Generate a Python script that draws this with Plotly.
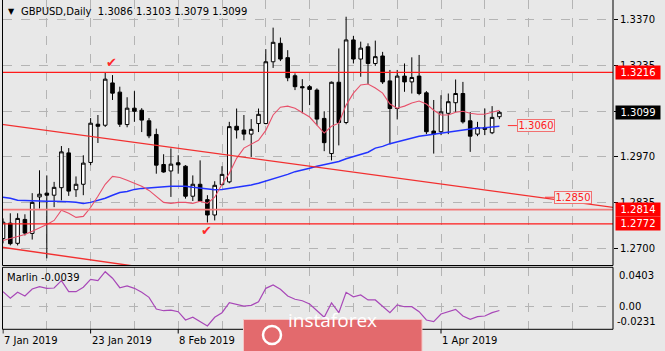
import plotly.graph_objects as go

W, H = 665, 351

# ---------------- data ----------------
bar_index = list(range(69))
open_ = [1.2729, 1.2774, 1.2715, 1.2785, 1.2744, 1.2851, 1.2862, 1.2856, 1.2878, 1.2980,
         1.2872, 1.2888, 1.2952, 1.3064, 1.3061, 1.3185, 1.3158, 1.3063, 1.3111, 1.3105,
         1.3074, 1.3034, 1.2946, 1.2927, 1.2951, 1.2941, 1.2853, 1.2888, 1.2843, 1.2798,
         1.2887, 1.2895, 1.3058, 1.3047, 1.3035, 1.3066, 1.3066, 1.3247, 1.3301, 1.3259,
         1.3206, 1.3174, 1.3174, 1.3164, 1.3081, 1.2978, 1.3187, 1.3069, 1.3311, 1.3255,
         1.3291, 1.3242, 1.3264, 1.3191, 1.3110, 1.3205, 1.3188, 1.3205, 1.3156, 1.3044,
         1.3042, 1.3096, 1.3127, 1.3154, 1.3074, 1.3035, 1.3054, 1.3039, 1.3086]
high_ = [1.2788, 1.2803, 1.2803, 1.2800, 1.2862, 1.2929, 1.2914, 1.2895, 1.3000, 1.2994,
         1.2911, 1.2973, 1.3082, 1.3091, 1.3216, 1.3208, 1.3174, 1.3143, 1.3161, 1.3111,
         1.3082, 1.3051, 1.2976, 1.2993, 1.2973, 1.2944, 1.2914, 1.2958, 1.2856, 1.2897,
         1.2941, 1.3071, 1.3110, 1.3091, 1.3079, 1.3110, 1.3284, 1.3347, 1.3318, 1.3281,
         1.3213, 1.3196, 1.3179, 1.3169, 1.3102, 1.3189, 1.3286, 1.3379, 1.3323, 1.3306,
         1.3301, 1.3309, 1.3276, 1.3223, 1.3223, 1.3242, 1.3260, 1.3267, 1.3161, 1.3135,
         1.3149, 1.3154, 1.3195, 1.3188, 1.3100, 1.3071, 1.3110, 1.3117, 1.3103]
low_ = [1.2715, 1.2709, 1.2709, 1.2738, 1.2726, 1.2817, 1.2671, 1.2821, 1.2841, 1.2854,
        1.2851, 1.2856, 1.2944, 1.3009, 1.3056, 1.3135, 1.3056, 1.3055, 1.3071, 1.3041,
        1.3023, 1.2919, 1.2922, 1.2851, 1.2919, 1.2846, 1.2839, 1.2836, 1.2776, 1.2782,
        1.2885, 1.2891, 1.3022, 1.3017, 1.2968, 1.3041, 1.3064, 1.3229, 1.3249, 1.3190,
        1.3164, 1.3096, 1.3120, 1.3061, 1.2985, 1.2958, 1.3002, 1.3064, 1.3242, 1.3203,
        1.3182, 1.3235, 1.3182, 1.3005, 1.3078, 1.3159, 1.3154, 1.3149, 1.3035, 1.2978,
        1.3032, 1.3035, 1.3100, 1.3066, 1.2983, 1.3029, 1.3032, 1.3035, 1.3079]
close_ = [1.2777, 1.2714, 1.2788, 1.2745, 1.2835, 1.2859, 1.2856, 1.2879, 1.2983, 1.2868,
          1.2888, 1.2950, 1.3067, 1.3058, 1.3196, 1.3155, 1.3064, 1.3111, 1.3102, 1.3076,
          1.3030, 1.2944, 1.2924, 1.2947, 1.2945, 1.2853, 1.2888, 1.2839, 1.2798, 1.2885,
          1.2917, 1.3057, 1.3047, 1.3035, 1.3049, 1.3093, 1.3247, 1.3304, 1.3255, 1.3200,
          1.3174, 1.3171, 1.3166, 1.3079, 1.3010, 1.3187, 1.3069, 1.3311, 1.3255, 1.3287,
          1.3242, 1.3262, 1.3188, 1.3110, 1.3205, 1.3188, 1.3201, 1.3154, 1.3042, 1.3035,
          1.3100, 1.3130, 1.3154, 1.3071, 1.3029, 1.3054, 1.3049, 1.3084, 1.3099]

ma_fast = [1.2723, 1.2729, 1.2735, 1.2741, 1.2750, 1.2759, 1.2770, 1.2782, 1.2812, 1.2803,
           1.2791, 1.2794, 1.2820, 1.2853, 1.2888, 1.2911, 1.2908, 1.2900, 1.2891, 1.2882,
           1.2870, 1.2853, 1.2835, 1.2832, 1.2835, 1.2835, 1.2832, 1.2838, 1.2832, 1.2850,
           1.2888, 1.2920, 1.2964, 1.2994, 1.3005, 1.3017, 1.3046, 1.3091, 1.3114, 1.3117,
           1.3111, 1.3099, 1.3085, 1.3061, 1.3038, 1.3058, 1.3067, 1.3120, 1.3155, 1.3179,
           1.3182, 1.3170, 1.3155, 1.3123, 1.3111, 1.3117, 1.3126, 1.3132, 1.3123, 1.3105,
           1.3091, 1.3091, 1.3099, 1.3102, 1.3096, 1.3093, 1.3093, 1.3099, 1.3105]
ma_slow = [1.2850, 1.2847, 1.2841, 1.2840, 1.2838, 1.2838, 1.2838, 1.2838, 1.2838, 1.2837,
           1.2835, 1.2832, 1.2835, 1.2841, 1.2847, 1.2856, 1.2864, 1.2867, 1.2873, 1.2876,
           1.2878, 1.2879, 1.2881, 1.2882, 1.2882, 1.2882, 1.2879, 1.2876, 1.2873, 1.2872,
           1.2873, 1.2876, 1.2879, 1.2882, 1.2886, 1.2891, 1.2897, 1.2904, 1.2911, 1.2917,
           1.2925, 1.2929, 1.2935, 1.2941, 1.2945, 1.2951, 1.2955, 1.2963, 1.2970, 1.2976,
           1.2982, 1.2994, 1.2999, 1.3007, 1.3013, 1.3019, 1.3025, 1.3029, 1.3032, 1.3035,
           1.3038, 1.3041, 1.3044, 1.3048, 1.3050, 1.3053, 1.3054, 1.3055, 1.3058]
marlin = [0.0154, 0.0086, 0.0147, 0.0110, 0.0181, 0.0205, 0.0188, 0.0191, 0.0266, 0.0154,
          0.0154, 0.0199, 0.0280, 0.0266, 0.0358, 0.0291, 0.0194, 0.0212, 0.0188, 0.0147,
          0.0096, -0.0023, -0.0041, -0.0034, -0.0051, -0.0136, -0.0108, -0.0153, -0.0197, -0.0108,
          -0.0061, 0.0041, 0.0025, 0.0007, 0.0014, 0.0051, 0.0188, 0.0222, 0.0178, 0.0110,
          0.0076, 0.0061, 0.0028, -0.0041, -0.0108, 0.0038, -0.0061, 0.0147, 0.0102, 0.0120,
          0.0069, 0.0069, 0.0000, -0.0061, 0.0018, 0.0000, 0.0000, -0.0051, -0.0136, -0.0153,
          -0.0075, -0.0051, -0.0027, -0.0095, -0.0129, -0.0102, -0.0095, -0.0061, -0.0039]

# trend channel lines (bar index, price)
upper_line_x = [-1, 84]
upper_line_y = [1.3066, 1.2819]
lower_line_x = [-1, 25]
lower_line_y = [1.2706, 1.2627]

levels = [1.3216, 1.2814, 1.2772]
level_colors = ["#ff1a1a", "#f27a7a", "#ff1a1a"]
level_widths = [1.2, 1.8, 1.2]

price_marks = [1.3060, 1.2850]
price_mark_x = [70.4, 75.5]

price_ticks = [1.2700, 1.2835, 1.2970, 1.3100, 1.3235, 1.3370]
price_tick_text = ["1.2700", "1.2835", "1.2970", "1.3100", "1.3235", "1.3370"]
date_ticks = [0, 12, 24, 60]
date_labels = ["7 Jan 2019", "23 Jan 2019", "8 Feb 2019", "1 Apr 2019"]
marlin_labels = [0.0403, 0.0, -0.0231]
marlin_label_text = ["0.0403", "0.00", "-0.0231"]

last_price = close_[-1]
checks = [(14.9, 1.3245), (27.9, 1.2752)]

# ---------------- layout helpers ----------------
def px(x):
    return x / W

def py(y):
    return 1 - y / H

BG = "#e8e8e8"
FONT = "DejaVu Sans"
XR = [-0.07, 83.56]
main_dom = [py(265.5), py(0)]
sub_dom = [py(329.3), py(267.3)]
x_dom = [px(2.5), px(613)]

fig = go.Figure()

# MAs
fig.add_trace(go.Scatter(x=bar_index, y=ma_slow, mode="lines",
                         line=dict(color="#2233ff", width=1.5), xaxis="x", yaxis="y"))
fig.add_trace(go.Scatter(x=bar_index, y=ma_fast, mode="lines",
                         line=dict(color="#e8506a", width=1.1), xaxis="x", yaxis="y"))
# trend lines
fig.add_trace(go.Scatter(x=upper_line_x, y=upper_line_y, mode="lines",
                         line=dict(color="#f23030", width=1.4), xaxis="x", yaxis="y"))
fig.add_trace(go.Scatter(x=lower_line_x, y=lower_line_y, mode="lines",
                         line=dict(color="#f23030", width=1.4), xaxis="x", yaxis="y"))
# horizontal levels
for lv, c, w in zip(levels, level_colors, level_widths):
    fig.add_trace(go.Scatter(x=XR, y=[lv, lv], mode="lines",
                             line=dict(color=c, width=w), xaxis="x", yaxis="y"))
# candles
fig.add_trace(go.Candlestick(
    x=bar_index, open=open_, high=high_, low=low_, close=close_,
    increasing=dict(line=dict(color="#000000", width=1), fillcolor="#ffffff"),
    decreasing=dict(line=dict(color="#000000", width=1), fillcolor="#000000"),
    whiskerwidth=0, xaxis="x", yaxis="y"))
# price mark small line segments
for pm, pxm in zip(price_marks, price_mark_x):
    fig.add_trace(go.Scatter(x=[pxm - 1.25, pxm], y=[pm, pm], mode="lines",
                             line=dict(color="#ff3030", width=1), xaxis="x", yaxis="y"))

# Marlin
fig.add_trace(go.Scatter(x=bar_index, y=marlin, mode="lines",
                         line=dict(color="#a848b8", width=1.2), xaxis="x2", yaxis="y2"))

grid = dict(gridcolor="#b4b4b4", griddash="dash", gridwidth=1)

fig.update_layout(
    width=W, height=H, autosize=False,
    margin=dict(l=0, r=0, t=0, b=0),
    paper_bgcolor=BG, plot_bgcolor=BG,
    showlegend=False,
    font=dict(family=FONT, size=10, color="#000000"),
    xaxis=dict(domain=x_dom, range=XR, anchor="y", tickmode="linear", tick0=0, dtick=6,
               showticklabels=False, ticks="", showline=False, zeroline=False,
               rangeslider=dict(visible=False), **grid),
    yaxis=dict(domain=main_dom, range=[1.2650, 1.3428], side="right", anchor="x",
               tickvals=price_ticks, ticktext=price_tick_text, ticks="outside", ticklen=4,
               tickcolor="#000000", showline=False, zeroline=False, **grid),
    xaxis2=dict(domain=x_dom, range=XR, anchor="y2", tickmode="linear", tick0=0, dtick=6,
                showticklabels=False, ticks="", showline=False, zeroline=False, **grid),
    yaxis2=dict(domain=sub_dom, range=[-0.0231, 0.0403], side="right", anchor="x2",
                tickvals=[0.0], showticklabels=False, ticks="", showline=False,
                zeroline=False, **grid),
)

shapes = []
# frames
shapes.append(dict(type="rect", xref="paper", yref="paper", x0=px(2.5), x1=px(613),
                   y0=py(265.5), y1=py(-2), line=dict(color="#000000", width=1)))
shapes.append(dict(type="rect", xref="paper", yref="paper", x0=px(2.5), x1=px(613),
                   y0=py(329.3), y1=py(267.3), line=dict(color="#000000", width=1)))
# date ticks
for t in date_ticks:
    shapes.append(dict(type="line", xref="x2", yref="paper", x0=t, x1=t,
                       y0=py(329.3), y1=py(333.5), line=dict(color="#000000", width=1)))
# logo box
shapes.append(dict(type="rect", xref="paper", yref="paper", x0=px(243.5), x1=px(422),
                   y0=py(352), y1=py(319.5), fillcolor="#e36a6d",
                   line=dict(color="#f6c4c4", width=1), layer="above"))
shapes.append(dict(type="circle", xref="paper", yref="paper", x0=px(263), x1=px(281),
                   y0=py(344), y1=py(326), line=dict(color="#ffffff", width=2.5),
                   layer="above"))
fig.update_layout(shapes=shapes)

ann = []
# title
ann.append(dict(xref="paper", yref="paper", x=px(6), y=py(11), xanchor="left",
                yanchor="middle", text="▼", showarrow=False,
                font=dict(family=FONT, size=8, color="#000000")))
ann.append(dict(xref="paper", yref="paper", x=px(19), y=py(11), xanchor="left",
                yanchor="middle", showarrow=False,
                text="GBPUSD,Daily\u00a0\u00a0" + "\u00a0".join(
                    f"{v:.4f}" for v in (open_[-1], high_[-1], low_[-1], close_[-1])),
                font=dict(family=FONT, size=10, color="#000000")))
# right colored level labels
for lv, bg in [(levels[0], "#ff0000"), (last_price, "#000000"),
               (levels[1], "#ff0000"), (levels[2], "#ff0000")]:
    ann.append(dict(xref="paper", yref="y", x=px(614.5), y=lv, xanchor="left",
                    yanchor="middle", text=f"{lv:.4f}", showarrow=False,
                    bgcolor=bg, borderpad=1, width=42, height=11, align="center",
                    font=dict(family=FONT, size=10, color="#ffffff")))
# price mark labels
for pm, pxm in zip(price_marks, price_mark_x):
    ann.append(dict(xref="x", yref="y", x=pxm, y=pm, xanchor="left", yanchor="middle",
                    text=f"{pm:.4f}", showarrow=False, bgcolor="#ececec",
                    bordercolor="#f27070", borderwidth=1, borderpad=0, width=36,
                    height=11, align="center",
                    font=dict(family=FONT, size=10, color="#ff2020")))
# checkmarks
for cx, cy in checks:
    ann.append(dict(xref="x", yref="y", x=cx, y=cy, text="✔", showarrow=False,
                    font=dict(family=FONT, size=13, color="#ff2a2a")))
# date labels
for t, lab in zip(date_ticks, date_labels):
    ann.append(dict(xref="x2", yref="paper", x=t, y=py(340), xanchor="left",
                    yanchor="middle", xshift=-1, text=lab, showarrow=False,
                    font=dict(family=FONT, size=10, color="#000000")))
# Marlin labels
ann.append(dict(xref="paper", yref="paper", x=px(5), y=py(277), xanchor="left",
                yanchor="middle", text=f"Marlin {marlin[-1]:.4f}", showarrow=False,
                font=dict(family=FONT, size=10, color="#000000")))
for v, txt, yy in zip(marlin_labels, marlin_label_text, [275, 306.7, 321.7]):
    ann.append(dict(xref="paper", yref="paper", x=px(617 if v >= 0 else 615),
                    y=py(yy), xanchor="left", yanchor="middle", text=txt,
                    showarrow=False, font=dict(family=FONT, size=10, color="#000000")))
# logo text
ann.append(dict(xref="paper", yref="paper", x=px(332), y=py(334.5), text="instaforex",
                showarrow=False, font=dict(family="Open Sans", size=19, color="#ffffff")))
fig.update_layout(annotations=ann)

fig.write_html("out.html")
